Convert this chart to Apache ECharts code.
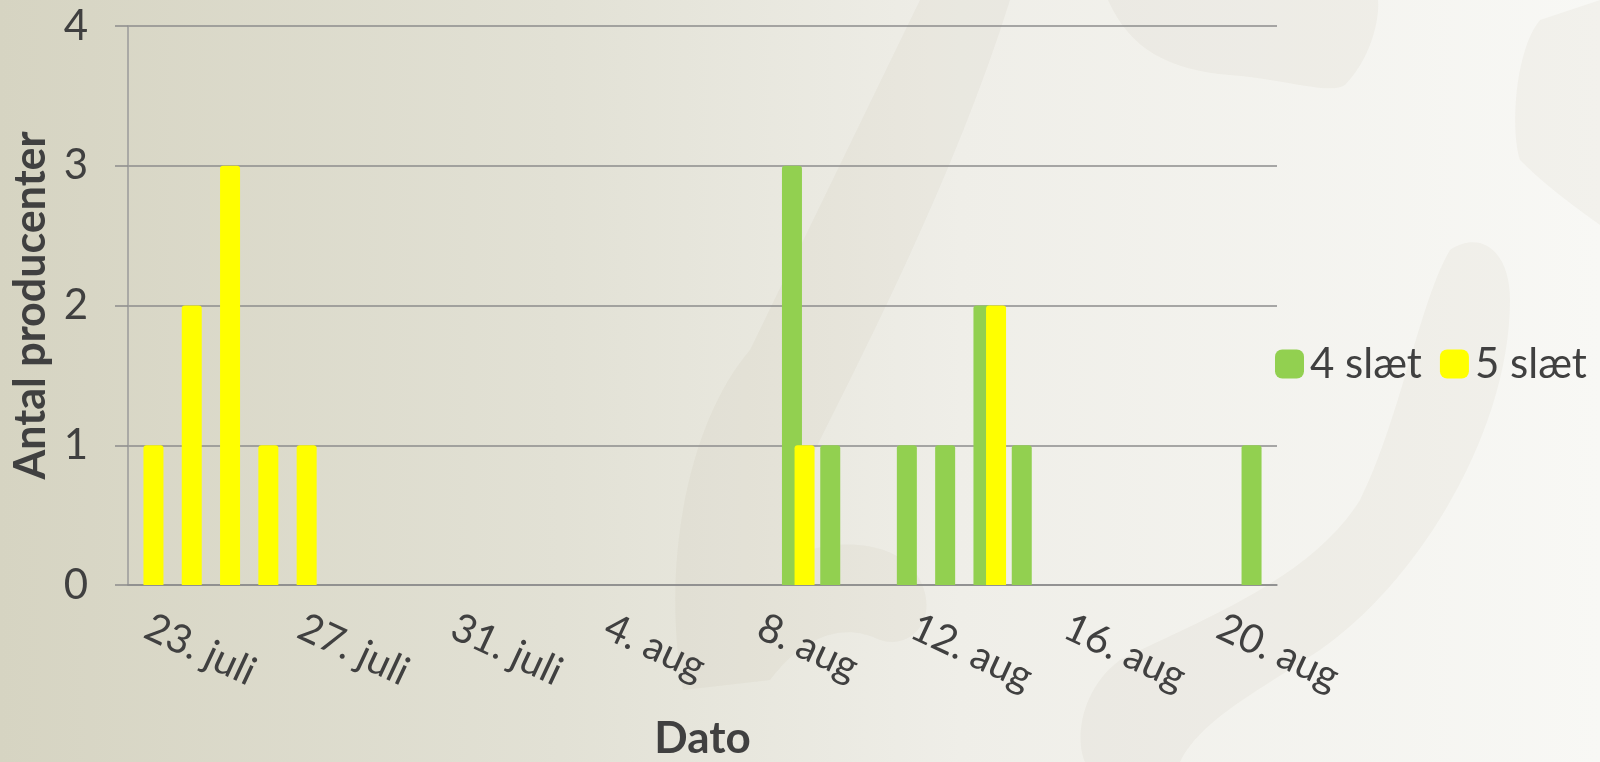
<!DOCTYPE html>
<html>
<head>
<meta charset="utf-8">
<script src="https://cdn.jsdelivr.net/npm/echarts@6/dist/echarts.min.js"></script>
<style>
  html, body { margin: 0; padding: 0; }
  #wrap {
    position: relative; width: 1600px; height: 762px;
    background: linear-gradient(to right, #d6d4c2 0%, #e2e1d5 35%, #efeee8 60%, #f8f8f5 100%);
  }
  #deco { position: absolute; left: 0; top: 0; }
  #main { position: absolute; left: 0; top: 0; width: 1600px; height: 762px; }
</style>
</head>
<body>
<div id="wrap">
  <!-- svage baggrundssnirkler -->
  <svg id="deco" width="1600" height="762">
    <g fill="rgba(150,140,105,0.06)">
      <path d="M 683 690 C 660 560 690 420 750 350 L 920 0 L 1010 0 C 960 160 880 320 820 440 C 800 480 790 520 810 550 C 840 540 900 540 920 580 C 940 620 910 650 880 640 C 840 620 800 640 770 680 Z"/>
      <path d="M 1108 0 C 1130 50 1170 70 1230 75 C 1290 80 1330 95 1345 85 C 1370 60 1380 20 1378 0 Z"/>
      <path d="M 1600 0 L 1540 20 C 1515 50 1510 130 1520 160 C 1550 190 1580 210 1600 225 Z"/>
      <path d="M 1450 250 C 1420 300 1400 420 1360 500 C 1310 580 1200 620 1120 660 C 1080 690 1075 740 1085 762 L 1180 762 C 1200 720 1260 690 1320 650 C 1420 580 1510 430 1510 300 C 1510 250 1480 230 1450 250 Z"/>
    </g>
  </svg>
  <div id="main"></div>
</div>
<script>
// dagene pa x-aksen (23. juli - 21. aug)
var dates = [
  '23. juli', '24. juli', '25. juli', '26. juli', '27. juli', '28. juli', '29. juli', '30. juli', '31. juli',
  '1. aug', '2. aug', '3. aug', '4. aug', '5. aug', '6. aug', '7. aug', '8. aug', '9. aug', '10. aug',
  '11. aug', '12. aug', '13. aug', '14. aug', '15. aug', '16. aug', '17. aug', '18. aug', '19. aug',
  '20. aug', '21. aug'
];
var seriesNames = ['4 slæt', '5 slæt'];
var slaet4 = [0, 0, 0, 0, 0, 0, 0, 0, 0, 0, 0, 0, 0, 0, 0, 0, 0, 3, 1, 0, 1, 1, 2, 1, 0, 0, 0, 0, 0, 1];
var slaet5 = [1, 2, 3, 1, 1, 0, 0, 0, 0, 0, 0, 0, 0, 0, 0, 0, 0, 1, 0, 0, 0, 0, 2, 0, 0, 0, 0, 0, 0, 0];
var yTicks = { min: 0, max: 4, interval: 1 };

var myChart = echarts.init(document.getElementById('main'));

var textColor = '#404040';
var font = 'Lato';

// tom dag = ingen soejle
function clean(arr) {
  return arr.map(function (v) { return v === 0 ? null : v; });
}

var option = {
  backgroundColor: 'transparent',
  textStyle: { fontFamily: font, color: textColor },
  grid: { left: 128, right: 323, top: 26, bottom: 177, outerBoundsMode: 'none', containLabel: false },
  legend: {
    data: seriesNames,
    left: 1270,
    top: 338,
    icon: 'roundRect',
    itemWidth: 29,
    itemHeight: 29,
    itemGap: 18,
    textStyle: { fontFamily: font, fontSize: 42, color: textColor, padding: [0, 0, 0, 1] }
  },
  xAxis: {
    type: 'category',
    data: dates,
    name: 'Dato',
    nameLocation: 'middle',
    nameGap: 132,
    nameTextStyle: { fontFamily: font, fontSize: 44, fontWeight: 'bold', color: textColor },
    axisLine: { show: true, lineStyle: { color: '#8c8c8c', width: 1.5 } },
    axisTick: { show: false },
    axisLabel: {
      interval: 3,
      rotate: -25,
      margin: 40,
      fontFamily: font,
      fontSize: 40,
      color: textColor
    },
    splitLine: { show: false }
  },
  yAxis: {
    type: 'value',
    min: yTicks.min,
    max: yTicks.max,
    interval: yTicks.interval,
    name: 'Antal producenter',
    nameLocation: 'middle',
    nameRotate: 90,
    nameGap: 72,
    nameTextStyle: { fontFamily: font, fontSize: 43, fontWeight: 'bold', color: textColor },
    axisLine: { show: true, lineStyle: { color: '#9a9a9a', width: 1.5 } },
    axisTick: { show: true, length: 13, lineStyle: { color: '#8c8c8c', width: 1.5 } },
    axisLabel: { margin: 40, fontFamily: font, fontSize: 42, color: textColor },
    splitLine: { show: true, lineStyle: { color: '#8c8c8c', width: 1.5 } }
  },
  series: [
    {
      name: seriesNames[0],
      type: 'bar',
      data: clean(slaet4),
      barWidth: 20,
      barGap: '-37%',
      itemStyle: { color: '#92d050', borderRadius: [3, 3, 0, 0] }
    },
    {
      name: seriesNames[1],
      type: 'bar',
      data: clean(slaet5),
      barWidth: 20,
      barGap: '-37%',
      itemStyle: { color: '#ffff00', borderRadius: [3, 3, 0, 0] }
    }
  ]
};

myChart.setOption(option);
</script>
</body>
</html>
